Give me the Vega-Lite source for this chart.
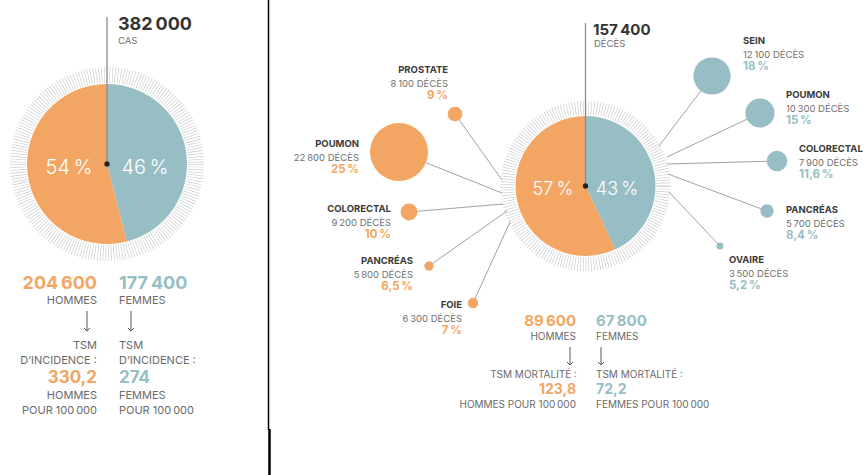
{
  "$schema": "https://vega.github.io/schema/vega-lite/v6.json",
  "width": 868,
  "height": 475,
  "padding": 0,
  "autosize": {"type": "none"},
  "background": "white",
  "config": {"view": {"stroke": null}, "font": "Inter", "text": {"font": "Inter"}},
  "datasets": {
    "frame": [
      {"part": "border", "x": 268.5, "y": 0, "x2": 268.5, "y2": 430},
      {"part": "border2", "x": 269.5, "y": 429, "x2": 269.5, "y2": 475},
      {"part": "stem", "x": 107, "y": 164, "x2": 107, "y2": 17},
      {"part": "stem", "x": 585.5, "y": 186, "x2": 585.5, "y2": 23}
    ],
    "centers": [
      {"panel": "cas", "x": 107, "y": 164},
      {"panel": "deces", "x": 585.5, "y": 186}
    ],
    "pies": [
      {"panel": "cas", "sexe": "Femmes", "pct": 46, "x": 107, "y": 164, "lx": 145, "ly": 174, "label": "46\u2009%"},
      {"panel": "cas", "sexe": "Hommes", "pct": 54, "x": 107, "y": 164, "lx": 69, "ly": 174, "label": "54\u2009%"},
      {"panel": "deces", "sexe": "Femmes", "pct": 43, "x": 585.5, "y": 186, "lx": 617, "ly": 195, "label": "43\u2009%"},
      {"panel": "deces", "sexe": "Hommes", "pct": 57, "x": 585.5, "y": 186, "lx": 553, "ly": 195, "label": "57\u2009%"}
    ],
    "bubbles": [
      {"sexe": "Hommes", "cancer": "PROSTATE", "deces": 8100, "deces_label": "8\u2009100 DÉCÈS", "pct": 9, "pct_label": "9\u2009%", "x": 455, "y": 114, "x2": 502, "y2": 180, "tx": 448, "ty": 73},
      {"sexe": "Hommes", "cancer": "POUMON", "deces": 22800, "deces_label": "22\u2009800 DÉCÈS", "pct": 25, "pct_label": "25\u2009%", "x": 399, "y": 152, "x2": 502, "y2": 193, "tx": 359, "ty": 147},
      {"sexe": "Hommes", "cancer": "COLORECTAL", "deces": 9200, "deces_label": "9\u2009200 DÉCÈS", "pct": 10, "pct_label": "10\u2009%", "x": 409, "y": 212, "x2": 503, "y2": 204, "tx": 391, "ty": 212},
      {"sexe": "Hommes", "cancer": "PANCRÉAS", "deces": 5800, "deces_label": "5\u2009800 DÉCÈS", "pct": 6.5, "pct_label": "6,5\u2009%", "x": 429, "y": 266, "x2": 507, "y2": 211, "tx": 413, "ty": 264},
      {"sexe": "Hommes", "cancer": "FOIE", "deces": 6300, "deces_label": "6\u2009300 DÉCÈS", "pct": 7, "pct_label": "7\u2009%", "x": 473, "y": 303, "x2": 510, "y2": 222, "tx": 462, "ty": 308},
      {"sexe": "Femmes", "cancer": "SEIN", "deces": 12100, "deces_label": "12\u2009100 DÉCÈS", "pct": 18, "pct_label": "18\u2009%", "x": 712, "y": 76, "x2": 659, "y2": 146, "tx": 743, "ty": 44},
      {"sexe": "Femmes", "cancer": "POUMON", "deces": 10300, "deces_label": "10\u2009300 DÉCÈS", "pct": 15, "pct_label": "15\u2009%", "x": 760, "y": 113, "x2": 667, "y2": 157, "tx": 786, "ty": 98},
      {"sexe": "Femmes", "cancer": "COLORECTAL", "deces": 7900, "deces_label": "7\u2009900 DÉCÈS", "pct": 11.6, "pct_label": "11,6\u2009%", "x": 777, "y": 161, "x2": 667, "y2": 164, "tx": 799, "ty": 152},
      {"sexe": "Femmes", "cancer": "PANCRÉAS", "deces": 5700, "deces_label": "5\u2009700 DÉCÈS", "pct": 8.4, "pct_label": "8,4\u2009%", "x": 767, "y": 211, "x2": 668, "y2": 174, "tx": 786, "ty": 213},
      {"sexe": "Femmes", "cancer": "OVAIRE", "deces": 3500, "deces_label": "3\u2009500 DÉCÈS", "pct": 5.2, "pct_label": "5,2\u2009%", "x": 720, "y": 246, "x2": 669, "y2": 192, "tx": 729, "ty": 263}
    ],
    "arrows": [
      {"x": 87, "y": 311, "y2": 331},
      {"x": 131, "y": 311, "y2": 331},
      {"x": 570, "y": 347, "y2": 365},
      {"x": 601, "y": 347, "y2": 365}
    ],
    "texts": [
      {"kind": "total", "text": "382\u2009000", "x": 118, "y": 30},
      {"kind": "unit", "text": "CAS", "x": 118, "y": 44},
      {"kind": "total2", "text": "157\u2009400", "x": 593, "y": 35},
      {"kind": "unit", "text": "DÉCÈS", "x": 594, "y": 47},
      {"kind": "num1", "sexe": "Hommes", "text": "204\u2009600", "x": 97, "y": 289},
      {"kind": "num1", "sexe": "Femmes", "text": "177\u2009400", "x": 119, "y": 289},
      {"kind": "cap1", "sexe": "Hommes", "text": "HOMMES", "x": 97, "y": 304},
      {"kind": "cap1", "sexe": "Hommes", "text": "TSM", "x": 97, "y": 349},
      {"kind": "cap1", "sexe": "Hommes", "text": "D’INCIDENCE :", "x": 97, "y": 364},
      {"kind": "cap1", "sexe": "Hommes", "text": "HOMMES", "x": 97, "y": 399},
      {"kind": "cap1", "sexe": "Hommes", "text": "POUR 100\u2009000", "x": 97, "y": 414},
      {"kind": "cap1", "sexe": "Femmes", "text": "FEMMES", "x": 119, "y": 304},
      {"kind": "cap1", "sexe": "Femmes", "text": "TSM", "x": 119, "y": 349},
      {"kind": "cap1", "sexe": "Femmes", "text": "D’INCIDENCE :", "x": 119, "y": 364},
      {"kind": "cap1", "sexe": "Femmes", "text": "FEMMES", "x": 119, "y": 399},
      {"kind": "cap1", "sexe": "Femmes", "text": "POUR 100\u2009000", "x": 119, "y": 414},
      {"kind": "rate1", "sexe": "Hommes", "text": "330,2", "x": 97, "y": 383},
      {"kind": "rate1", "sexe": "Femmes", "text": "274", "x": 119, "y": 383},
      {"kind": "num2", "sexe": "Hommes", "text": "89\u2009600", "x": 576, "y": 326},
      {"kind": "num2", "sexe": "Femmes", "text": "67\u2009800", "x": 596, "y": 326},
      {"kind": "cap2", "sexe": "Hommes", "text": "HOMMES", "x": 576, "y": 340},
      {"kind": "cap2", "sexe": "Hommes", "text": "TSM MORTALITÉ :", "x": 577, "y": 378},
      {"kind": "cap2", "sexe": "Hommes", "text": "HOMMES POUR 100\u2009000", "x": 576, "y": 408},
      {"kind": "cap2", "sexe": "Femmes", "text": "FEMMES", "x": 596, "y": 340},
      {"kind": "cap2", "sexe": "Femmes", "text": "TSM MORTALITÉ :", "x": 596, "y": 378},
      {"kind": "cap2", "sexe": "Femmes", "text": "FEMMES POUR 100\u2009000", "x": 596, "y": 408},
      {"kind": "rate2", "sexe": "Hommes", "text": "123,8", "x": 576, "y": 394},
      {"kind": "rate2", "sexe": "Femmes", "text": "72,2", "x": 596, "y": 394}
    ]
  },
  "encoding": {
    "x": {"field": "x", "type": "quantitative", "scale": {"domain": [0, 868], "nice": false, "zero": false}, "axis": null},
    "y": {"field": "y", "type": "quantitative", "scale": {"domain": [0, 475], "nice": false, "zero": false, "reverse": true}, "axis": null}
  },
  "layer": [
    {
      "data": {"name": "frame"},
      "transform": [{"filter": "datum.part == 'border'"}],
      "mark": {"type": "rule", "color": "#000000", "strokeWidth": 1.5},
      "encoding": {"x2": {"field": "x2"}, "y2": {"field": "y2"}}
    },
    {
      "data": {"name": "frame"},
      "transform": [{"filter": "datum.part == 'border2'"}],
      "mark": {"type": "rule", "color": "#000000", "strokeWidth": 2.5},
      "encoding": {"x2": {"field": "x2"}, "y2": {"field": "y2"}}
    },
    {
      "data": {"name": "centers"},
      "transform": [{"filter": "datum.panel == 'cas'"}],
      "mark": {"type": "point", "shape": "circle", "filled": false, "size": 31684, "color": "#cdcdcd", "strokeWidth": 16, "strokeDash": [0.7, 2], "opacity": 1}
    },
    {
      "data": {"name": "centers"},
      "transform": [{"filter": "datum.panel == 'deces'"}],
      "mark": {"type": "point", "shape": "circle", "filled": false, "size": 24336, "color": "#cdcdcd", "strokeWidth": 14, "strokeDash": [0.7, 2], "opacity": 1}
    },
    {
      "data": {"name": "bubbles"},
      "mark": {"type": "rule", "color": "#8a8a8a", "strokeWidth": 0.8},
      "encoding": {"x2": {"field": "x2"}, "y2": {"field": "y2"}}
    },
    {
      "data": {"name": "pies"},
      "transform": [{"filter": "datum.panel == 'cas'"}],
      "mark": {"type": "arc", "outerRadius": 80},
      "encoding": {
        "theta": {"field": "pct", "type": "quantitative", "stack": true},
        "color": {"field": "sexe", "type": "nominal", "scale": {"domain": ["Hommes", "Femmes"], "range": ["#F3A663", "#97BEC4"]}, "legend": null}
      }
    },
    {
      "data": {"name": "pies"},
      "transform": [{"filter": "datum.panel == 'deces'"}],
      "mark": {"type": "arc", "outerRadius": 70},
      "encoding": {
        "theta": {"field": "pct", "type": "quantitative", "stack": true},
        "color": {"field": "sexe", "type": "nominal", "scale": {"domain": ["Hommes", "Femmes"], "range": ["#F3A663", "#97BEC4"]}, "legend": null}
      }
    },
    {
      "data": {"name": "frame"},
      "transform": [{"filter": "datum.part == 'stem'"}],
      "mark": {"type": "rule", "color": "#8c8c8c", "strokeWidth": 1.3},
      "encoding": {"x2": {"field": "x2"}, "y2": {"field": "y2"}}
    },
    {
      "data": {"name": "centers"},
      "mark": {"type": "point", "shape": "circle", "filled": true, "size": 28, "color": "#222222", "opacity": 1}
    },
    {
      "data": {"name": "bubbles"},
      "mark": {"type": "point", "shape": "circle", "filled": true, "opacity": 1, "strokeWidth": 0},
      "encoding": {
        "size": {"field": "pct", "type": "quantitative", "scale": {"type": "pow", "exponent": 2.7, "domain": [0, 25], "range": [0, 3364]}, "legend": null},
        "color": {"field": "sexe", "type": "nominal", "scale": {"domain": ["Hommes", "Femmes"], "range": ["#F3A663", "#97BEC4"]}, "legend": null}
      }
    },
    {
      "data": {"name": "arrows"},
      "mark": {"type": "rule", "color": "#555555", "strokeWidth": 1},
      "encoding": {"y2": {"field": "y2"}}
    },
    {
      "data": {"name": "arrows"},
      "mark": {"type": "point", "shape": "M-1,-1L0,0L1,-1", "filled": false, "size": 36, "color": "#555555", "strokeWidth": 1, "opacity": 1},
      "encoding": {"y": {"field": "y2", "type": "quantitative", "scale": {"domain": [0, 475], "nice": false, "zero": false, "reverse": true}, "axis": null}}
    },
    {
      "data": {"name": "pies"},
      "transform": [{"filter": "datum.panel == 'cas'"}],
      "mark": {"type": "text", "align": "center", "baseline": "alphabetic", "fontSize": 20, "fontWeight": 300, "color": "white"},
      "encoding": {
        "x": {"field": "lx", "type": "quantitative", "scale": {"domain": [0, 868], "nice": false, "zero": false}, "axis": null},
        "y": {"field": "ly", "type": "quantitative", "scale": {"domain": [0, 475], "nice": false, "zero": false, "reverse": true}, "axis": null},
        "text": {"field": "label"}
      }
    },
    {
      "data": {"name": "pies"},
      "transform": [{"filter": "datum.panel == 'deces'"}],
      "mark": {"type": "text", "align": "center", "baseline": "alphabetic", "fontSize": 18, "fontWeight": 300, "color": "white"},
      "encoding": {
        "x": {"field": "lx", "type": "quantitative", "scale": {"domain": [0, 868], "nice": false, "zero": false}, "axis": null},
        "y": {"field": "ly", "type": "quantitative", "scale": {"domain": [0, 475], "nice": false, "zero": false, "reverse": true}, "axis": null},
        "text": {"field": "label"}
      }
    },
    {
      "data": {"name": "texts"},
      "transform": [{"filter": "datum.kind == 'total'"}],
      "mark": {"type": "text", "align": "left", "baseline": "alphabetic", "fontSize": 18, "fontWeight": "bold", "color": "#333333"},
      "encoding": {"text": {"field": "text"}}
    },
    {
      "data": {"name": "texts"},
      "transform": [{"filter": "datum.kind == 'total2'"}],
      "mark": {"type": "text", "align": "left", "baseline": "alphabetic", "fontSize": 15, "fontWeight": "bold", "color": "#333333"},
      "encoding": {"text": {"field": "text"}}
    },
    {
      "data": {"name": "texts"},
      "transform": [{"filter": "datum.kind == 'unit'"}],
      "mark": {"type": "text", "align": "left", "baseline": "alphabetic", "fontSize": 9.5, "color": "#707070"},
      "encoding": {"text": {"field": "text"}}
    },
    {
      "data": {"name": "texts"},
      "transform": [{"filter": "datum.kind == 'num1' && datum.sexe == 'Hommes'"}],
      "mark": {"type": "text", "align": "right", "baseline": "alphabetic", "fontSize": 18, "fontWeight": "bold"},
      "encoding": {"text": {"field": "text"}, "color": {"field": "sexe", "type": "nominal", "scale": {"domain": ["Hommes", "Femmes"], "range": ["#F3A663", "#97BEC4"]}, "legend": null}}
    },
    {
      "data": {"name": "texts"},
      "transform": [{"filter": "datum.kind == 'num1' && datum.sexe == 'Femmes'"}],
      "mark": {"type": "text", "align": "left", "baseline": "alphabetic", "fontSize": 18, "fontWeight": "bold"},
      "encoding": {"text": {"field": "text"}, "color": {"field": "sexe", "type": "nominal", "scale": {"domain": ["Hommes", "Femmes"], "range": ["#F3A663", "#97BEC4"]}, "legend": null}}
    },
    {
      "data": {"name": "texts"},
      "transform": [{"filter": "datum.kind == 'rate1' && datum.sexe == 'Hommes'"}],
      "mark": {"type": "text", "align": "right", "baseline": "alphabetic", "fontSize": 17, "fontWeight": "bold"},
      "encoding": {"text": {"field": "text"}, "color": {"field": "sexe", "type": "nominal", "scale": {"domain": ["Hommes", "Femmes"], "range": ["#F3A663", "#97BEC4"]}, "legend": null}}
    },
    {
      "data": {"name": "texts"},
      "transform": [{"filter": "datum.kind == 'rate1' && datum.sexe == 'Femmes'"}],
      "mark": {"type": "text", "align": "left", "baseline": "alphabetic", "fontSize": 17, "fontWeight": "bold"},
      "encoding": {"text": {"field": "text"}, "color": {"field": "sexe", "type": "nominal", "scale": {"domain": ["Hommes", "Femmes"], "range": ["#F3A663", "#97BEC4"]}, "legend": null}}
    },
    {
      "data": {"name": "texts"},
      "transform": [{"filter": "datum.kind == 'cap1' && datum.sexe == 'Hommes'"}],
      "mark": {"type": "text", "align": "right", "baseline": "alphabetic", "fontSize": 11, "color": "#6a6a6a"},
      "encoding": {"text": {"field": "text"}}
    },
    {
      "data": {"name": "texts"},
      "transform": [{"filter": "datum.kind == 'cap1' && datum.sexe == 'Femmes'"}],
      "mark": {"type": "text", "align": "left", "baseline": "alphabetic", "fontSize": 11, "color": "#6a6a6a"},
      "encoding": {"text": {"field": "text"}}
    },
    {
      "data": {"name": "texts"},
      "transform": [{"filter": "datum.kind == 'num2' && datum.sexe == 'Hommes'"}],
      "mark": {"type": "text", "align": "right", "baseline": "alphabetic", "fontSize": 15, "fontWeight": "bold"},
      "encoding": {"text": {"field": "text"}, "color": {"field": "sexe", "type": "nominal", "scale": {"domain": ["Hommes", "Femmes"], "range": ["#F3A663", "#97BEC4"]}, "legend": null}}
    },
    {
      "data": {"name": "texts"},
      "transform": [{"filter": "datum.kind == 'num2' && datum.sexe == 'Femmes'"}],
      "mark": {"type": "text", "align": "left", "baseline": "alphabetic", "fontSize": 15, "fontWeight": "bold"},
      "encoding": {"text": {"field": "text"}, "color": {"field": "sexe", "type": "nominal", "scale": {"domain": ["Hommes", "Femmes"], "range": ["#F3A663", "#97BEC4"]}, "legend": null}}
    },
    {
      "data": {"name": "texts"},
      "transform": [{"filter": "datum.kind == 'rate2' && datum.sexe == 'Hommes'"}],
      "mark": {"type": "text", "align": "right", "baseline": "alphabetic", "fontSize": 14, "fontWeight": "bold"},
      "encoding": {"text": {"field": "text"}, "color": {"field": "sexe", "type": "nominal", "scale": {"domain": ["Hommes", "Femmes"], "range": ["#F3A663", "#97BEC4"]}, "legend": null}}
    },
    {
      "data": {"name": "texts"},
      "transform": [{"filter": "datum.kind == 'rate2' && datum.sexe == 'Femmes'"}],
      "mark": {"type": "text", "align": "left", "baseline": "alphabetic", "fontSize": 14, "fontWeight": "bold"},
      "encoding": {"text": {"field": "text"}, "color": {"field": "sexe", "type": "nominal", "scale": {"domain": ["Hommes", "Femmes"], "range": ["#F3A663", "#97BEC4"]}, "legend": null}}
    },
    {
      "data": {"name": "texts"},
      "transform": [{"filter": "datum.kind == 'cap2' && datum.sexe == 'Hommes'"}],
      "mark": {"type": "text", "align": "right", "baseline": "alphabetic", "fontSize": 10, "color": "#6a6a6a"},
      "encoding": {"text": {"field": "text"}}
    },
    {
      "data": {"name": "texts"},
      "transform": [{"filter": "datum.kind == 'cap2' && datum.sexe == 'Femmes'"}],
      "mark": {"type": "text", "align": "left", "baseline": "alphabetic", "fontSize": 10, "color": "#6a6a6a"},
      "encoding": {"text": {"field": "text"}}
    },
    {
      "data": {"name": "bubbles"},
      "transform": [{"filter": "datum.sexe == 'Hommes'"}],
      "mark": {"type": "text", "align": "right", "baseline": "alphabetic", "fontSize": 9.5, "fontWeight": "bold", "color": "#3a3a3a"},
      "encoding": {
        "x": {"field": "tx", "type": "quantitative", "scale": {"domain": [0, 868], "nice": false, "zero": false}, "axis": null},
        "y": {"field": "ty", "type": "quantitative", "scale": {"domain": [0, 475], "nice": false, "zero": false, "reverse": true}, "axis": null},
        "text": {"field": "cancer"}
      }
    },
    {
      "data": {"name": "bubbles"},
      "transform": [{"filter": "datum.sexe == 'Femmes'"}],
      "mark": {"type": "text", "align": "left", "baseline": "alphabetic", "fontSize": 9.5, "fontWeight": "bold", "color": "#3a3a3a"},
      "encoding": {
        "x": {"field": "tx", "type": "quantitative", "scale": {"domain": [0, 868], "nice": false, "zero": false}, "axis": null},
        "y": {"field": "ty", "type": "quantitative", "scale": {"domain": [0, 475], "nice": false, "zero": false, "reverse": true}, "axis": null},
        "text": {"field": "cancer"}
      }
    },
    {
      "data": {"name": "bubbles"},
      "transform": [{"filter": "datum.sexe == 'Hommes'"}],
      "mark": {"type": "text", "align": "right", "baseline": "alphabetic", "fontSize": 9.5, "color": "#707070", "dy": 13.5},
      "encoding": {
        "x": {"field": "tx", "type": "quantitative", "scale": {"domain": [0, 868], "nice": false, "zero": false}, "axis": null},
        "y": {"field": "ty", "type": "quantitative", "scale": {"domain": [0, 475], "nice": false, "zero": false, "reverse": true}, "axis": null},
        "text": {"field": "deces_label"}
      }
    },
    {
      "data": {"name": "bubbles"},
      "transform": [{"filter": "datum.sexe == 'Femmes'"}],
      "mark": {"type": "text", "align": "left", "baseline": "alphabetic", "fontSize": 9.5, "color": "#707070", "dy": 13.5},
      "encoding": {
        "x": {"field": "tx", "type": "quantitative", "scale": {"domain": [0, 868], "nice": false, "zero": false}, "axis": null},
        "y": {"field": "ty", "type": "quantitative", "scale": {"domain": [0, 475], "nice": false, "zero": false, "reverse": true}, "axis": null},
        "text": {"field": "deces_label"}
      }
    },
    {
      "data": {"name": "bubbles"},
      "transform": [{"filter": "datum.sexe == 'Hommes'"}],
      "mark": {"type": "text", "align": "right", "baseline": "alphabetic", "fontSize": 11.5, "fontWeight": "bold", "dy": 26},
      "encoding": {
        "x": {"field": "tx", "type": "quantitative", "scale": {"domain": [0, 868], "nice": false, "zero": false}, "axis": null},
        "y": {"field": "ty", "type": "quantitative", "scale": {"domain": [0, 475], "nice": false, "zero": false, "reverse": true}, "axis": null},
        "text": {"field": "pct_label"},
        "color": {"field": "sexe", "type": "nominal", "scale": {"domain": ["Hommes", "Femmes"], "range": ["#F3A663", "#97BEC4"]}, "legend": null}
      }
    },
    {
      "data": {"name": "bubbles"},
      "transform": [{"filter": "datum.sexe == 'Femmes'"}],
      "mark": {"type": "text", "align": "left", "baseline": "alphabetic", "fontSize": 11.5, "fontWeight": "bold", "dy": 26},
      "encoding": {
        "x": {"field": "tx", "type": "quantitative", "scale": {"domain": [0, 868], "nice": false, "zero": false}, "axis": null},
        "y": {"field": "ty", "type": "quantitative", "scale": {"domain": [0, 475], "nice": false, "zero": false, "reverse": true}, "axis": null},
        "text": {"field": "pct_label"},
        "color": {"field": "sexe", "type": "nominal", "scale": {"domain": ["Hommes", "Femmes"], "range": ["#F3A663", "#97BEC4"]}, "legend": null}
      }
    }
  ]
}
